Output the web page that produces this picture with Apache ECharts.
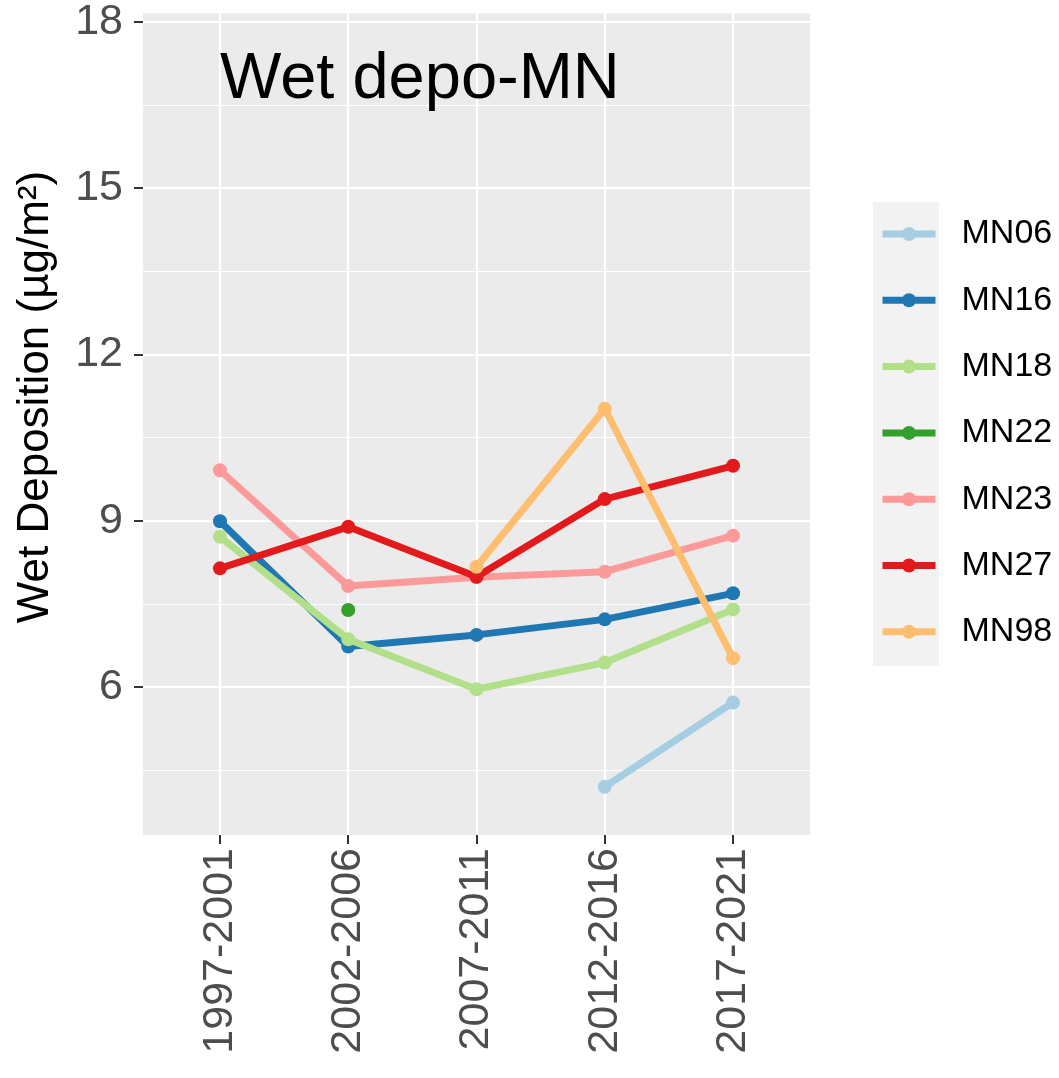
<!DOCTYPE html>
<html>
<head>
<meta charset="utf-8">
<script src="https://cdn.jsdelivr.net/npm/echarts@6/dist/echarts.min.js"></script>
<style>html,body{margin:0;padding:0;background:#fff}#c{width:1059px;height:1078px}</style>
</head>
<body>
<div id="c"></div>
<script>
const categories = ['1997-2001', '2002-2006', '2007-2011', '2012-2016', '2017-2021'];
const MN06 = [null, null, null, 4.20, 5.72];
const MN16 = [8.99, 6.73, 6.94, 7.22, 7.69];
const MN18 = [8.71, 6.86, 5.96, 6.44, 7.40];
const MN22 = [null, 7.39, null, null, null];
const MN23 = [9.91, 7.82, 7.98, 8.08, 8.73];
const MN27 = [8.14, 8.89, 7.99, 9.39, 9.99];
const MN98 = [null, null, 8.17, 11.02, 6.52];
const seriesNames = ['MN06', 'MN16', 'MN18', 'MN22', 'MN23', 'MN27', 'MN98'];
const seriesValues = [MN06, MN16, MN18, MN22, MN23, MN27, MN98];
const colors = ['#A6CEE3', '#1F78B4', '#B2DF8A', '#33A02C', '#FB9A99', '#E31A1C', '#FDBF6F'];
const yMajorTicks = [6, 9, 12, 15, 18];
const yMinorTicks = [4.5, 7.5, 10.5, 13.5, 16.5];
const xTicks = categories.map((c, i) => i);
const titleText = 'Wet depo-MN';
const yTitle = 'Wet Deposition (µg/m²)';

const chart = echarts.init(document.getElementById('c'), null, {renderer: 'canvas'});
const yMin = 3.33, yMax = 18.15;
const tickFont = '"Liberation Sans", Arial, sans-serif';

const series = seriesNames.map((name, k) => ({
  name: name,
  type: 'line',
  xAxisIndex: 0,
  yAxisIndex: 0,
  data: seriesValues[k].map((v, i) => [i, v]).filter(p => p[1] !== null),
  symbol: 'circle',
  symbolSize: 14,
  lineStyle: {width: 7, color: colors[k]},
  itemStyle: {color: colors[k]},
  emphasis: {disabled: true},
  animation: false,
  z: 3 + k * 0.01
}));

chart.setOption({
  animation: false,
  grid: {left: 143, right: 249, top: 13.5, bottom: 243, show: true, backgroundColor: '#EBEBEB', borderWidth: 0, containLabel: false},
  xAxis: {
    type: 'value', min: -0.6, max: 4.6,
    axisLine: {show: false, onZero: false},
    axisTick: {show: true, customValues: xTicks, length: 9, lineStyle: {color: '#333333', width: 2}},
    axisLabel: {show: true, customValues: xTicks, rotate: 90, margin: 13, formatter: v => categories[v],
      color: '#4D4D4D', fontSize: 43, fontFamily: tickFont},
    splitLine: {show: true, lineStyle: {color: '#FFFFFF', width: 2.2}}
  },
  yAxis: [{
    type: 'value', min: yMin, max: yMax,
    axisLine: {show: false, onZero: false},
    axisTick: {show: true, customValues: yMajorTicks, length: 9, lineStyle: {color: '#333333', width: 2}},
    axisLabel: {show: true, customValues: yMajorTicks, margin: 20, color: '#4D4D4D', fontSize: 43, fontFamily: tickFont},
    splitLine: {show: true, lineStyle: {color: '#FFFFFF', width: 2.2}}
  }, {
    type: 'value', min: yMin, max: yMax, position: 'left',
    axisLine: {show: false, onZero: false},
    axisTick: {show: false, customValues: yMinorTicks},
    axisLabel: {show: false, customValues: yMinorTicks},
    splitLine: {show: true, lineStyle: {color: '#FFFFFF', width: 1.1}}
  }],
  legend: {
    orient: 'vertical', left: 874, top: 212, padding: 5,
    itemWidth: 53, itemHeight: 17.5, itemGap: 32.3,
    data: seriesNames,
    lineStyle: {width: 7},
    textStyle: {fontSize: 34, color: '#000000', fontFamily: tickFont, padding: [0, 0, 0, 21]},
    selectedMode: false
  },
  graphic: [
    {type: 'rect', left: 873, top: 202, shape: {width: 66, height: 464}, style: {fill: '#F2F2F2'}, z: -1, silent: true},
    {type: 'text', x: 220, y: 80, style: {text: titleText, fontSize: 65, fontFamily: tickFont, fill: '#000000', align: 'left', verticalAlign: 'middle'}, z: 10},
    {type: 'text', x: 36, y: 397, rotation: Math.PI / 2, style: {text: yTitle, fontSize: 44, fontFamily: tickFont, fill: '#000000', align: 'center', verticalAlign: 'middle'}}
  ],
  series: series
});
</script>
</body>
</html>
